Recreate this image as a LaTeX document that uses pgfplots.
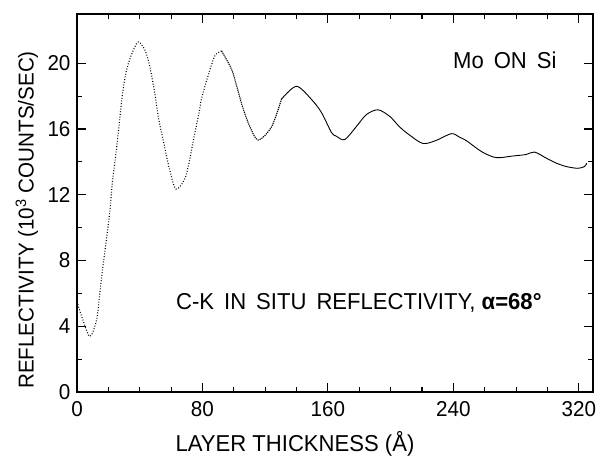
\documentclass[border=0pt]{standalone}
\usepackage{fontspec}
\setmainfont{Liberation Sans}[FakeStretch=0.96]
\usepackage{pgfplots}
\pgfplotsset{compat=1.18}
\begin{document}
\begin{tikzpicture}
\begin{axis}[
  name=ax,
  scale only axis,
  width=516pt, height=378pt,
  xmin=0, xmax=329, ymin=0, ymax=23,
  xtick={0,80,160,240,320},
  ytick={0,4,8,12,16,20},
  minor x tick num=3,
  minor y tick num=1,
  tick align=inside,
  major tick length=9pt,
  minor tick length=5pt,
  axis line style={line width=1.3pt},
  every tick/.style={black, line width=1.1pt},
  /pgf/number format/assume math mode=true,
  ticklabel style={font=\fontsize{21.5}{24}\selectfont},
  xticklabel style={yshift=-6pt},
  yticklabel style={xshift=-3pt},
  xlabel={LAYER THICKNESS (Å)},
  ylabel={REFLECTIVITY (10\textsuperscript{3} COUNTS/SEC)},
  xlabel style={font=\fontsize{23}{26}\selectfont, at={(axis description cs:0.4225,-0.157)}, anchor=base},
  ylabel style={font=\fontsize{21.5}{26}\selectfont, at={(axis description cs:-0.097,0.455)}, anchor=center},
  clip=false,
]
\addplot[black, line width=1.1pt, dash pattern=on 0.9pt off 1.8pt, smooth, tension=0.5] coordinates {
(0,5.5) (3,4.6) (8.2,3.38) (12.5,4.4) (14.6,6.05) (16.6,7.7) (18.8,9.3)
(20.9,10.96) (22.6,12.8) (24.7,14.4) (26.8,16.2) (28.9,18.06) (31.4,19.5)
(34.6,20.5) (39,21.3) (43.3,20.8) (46.2,19.9) (49.4,18.3) (52.1,16.6)
(55.7,15.0) (58.9,13.6) (63.1,12.35) (69.4,13.15) (74.7,15.55) (77.8,17.0)
(79.4,17.85) (83.6,19.25) (87.9,20.45) (92.2,20.75)
};
\addplot[black, line width=1.1pt, dash pattern=on 1.2pt off 0.9pt, smooth, tension=0.5] coordinates {
(92.2,20.75) (98.5,19.65)
(101.7,18.65) (105.9,17.25) (110.2,16.15) (115.5,15.33) (124,16.13) (130.4,17.82)
};
\addplot[black, line width=0.9pt, smooth, tension=0.5] coordinates {
(130.4,17.82) (139.9,18.6) (149.5,17.8) (155.9,17.0)
(162.2,15.8) (165.4,15.56) (170.7,15.36) (178.2,16.16) (184.5,16.88)
(191.9,17.17) (199.4,16.77) (205.7,16.13) (212.1,15.63) (220.6,15.12)
(229.1,15.31) (238.7,15.72) (244,15.5) (248.2,15.3) (252.4,15.0)
(258.8,14.58) (267.3,14.26) (277.9,14.36) (286.4,14.45) (291.7,14.6)
(299.2,14.23) (305.5,13.93) (311.9,13.72) (319.3,13.61) (323.6,13.72) (325,13.92)
};
\node[anchor=east, font=\fontsize{23}{26}\selectfont] at (axis cs:308,20.2) {Mo\, ON\, Si};
\node[anchor=west, font=\fontsize{23}{26}\selectfont] at (axis cs:61,5.4) {C-K\, IN\, SITU\, REFLECTIVITY, \textbf{α=68°}};
\end{axis}
\pgfresetboundingbox
\path ([shift={(-77pt,-65pt)}]ax.south west) rectangle ([shift={(4pt,14pt)}]ax.north east);
\end{tikzpicture}
\end{document}
